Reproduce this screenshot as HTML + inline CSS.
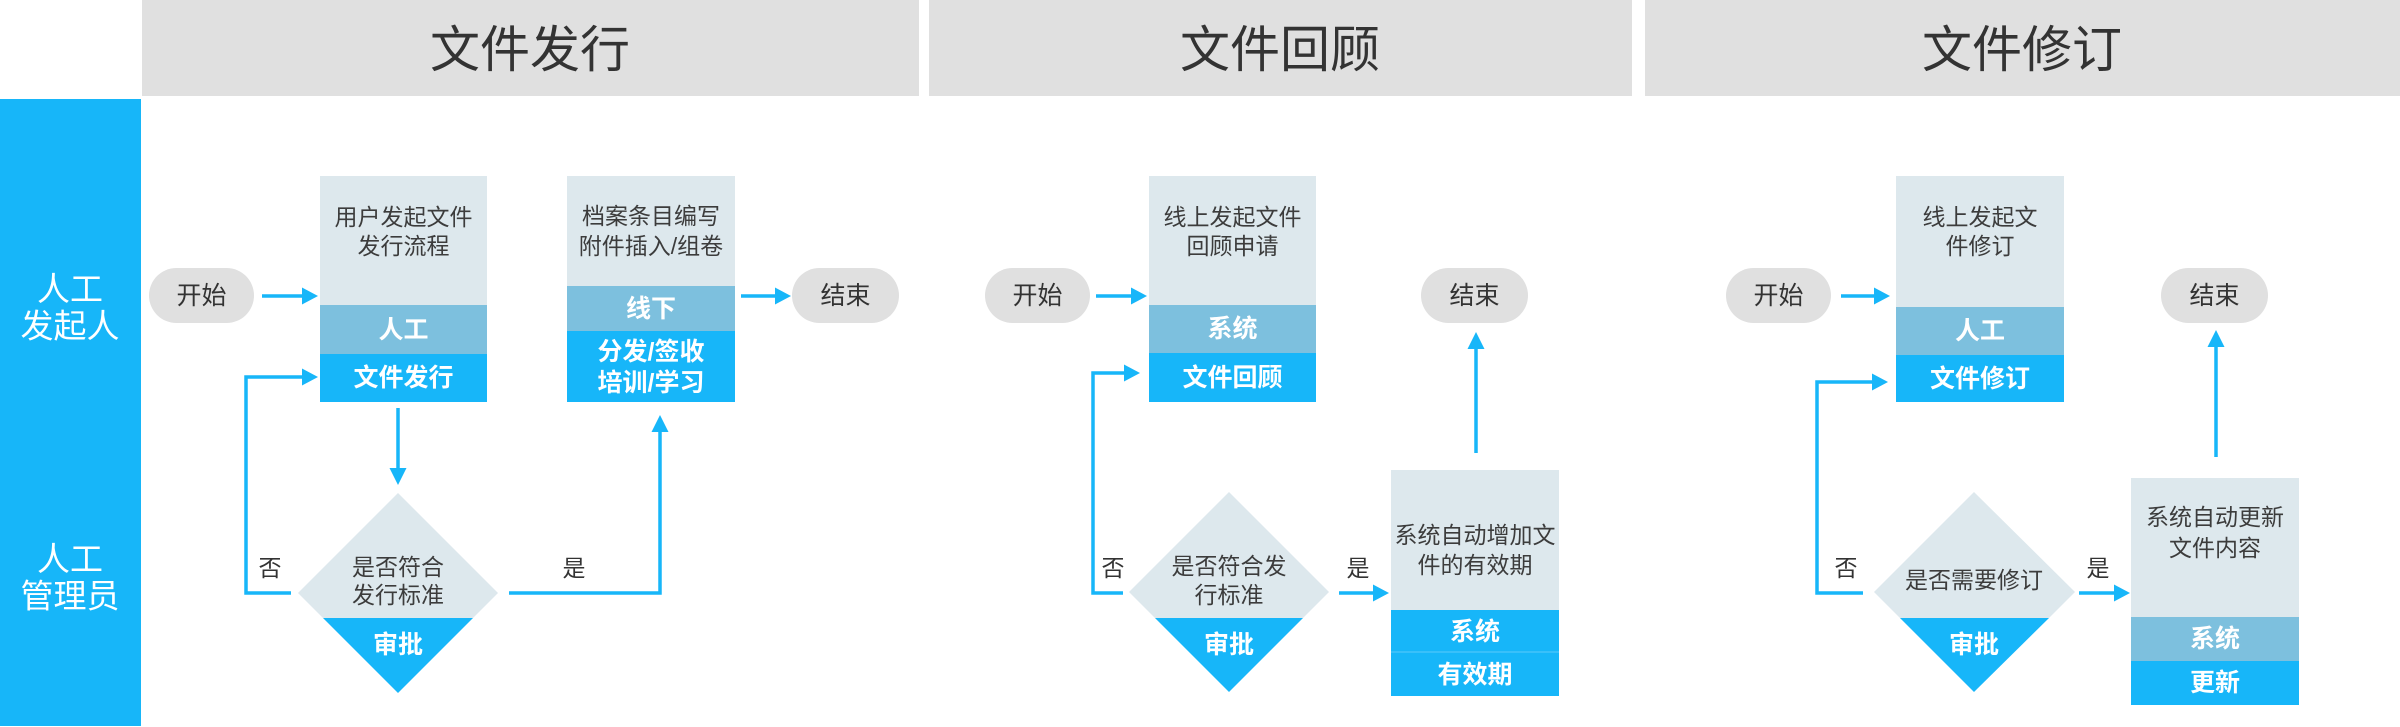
<!DOCTYPE html>
<html>
<head>
<meta charset="utf-8">
<style>
html,body{margin:0;padding:0;background:#fff;}
body{width:2400px;height:727px;overflow:hidden;}
svg{display:block;}
text{font-family:"Liberation Sans","Noto Sans CJK SC",sans-serif;dominant-baseline:central;text-anchor:middle;}
.t{font-size:50px;fill:#333;}
.s{font-size:33px;fill:#fff;}
.p{font-size:25px;fill:#333;}
.b{font-size:23px;fill:#3c3c3c;}
.w{font-size:25px;fill:#fff;font-weight:bold;}
.l{font-size:23px;fill:#333;}
</style>
</head>
<body>
<svg width="2400" height="727" viewBox="0 0 2400 727" xmlns="http://www.w3.org/2000/svg">
<!-- headers -->
<rect x="142" y="0" width="777" height="96" fill="#e0e0e0"/>
<rect x="929" y="0" width="703" height="96" fill="#e0e0e0"/>
<rect x="1645" y="0" width="755" height="96" fill="#e0e0e0"/>
<text class="t" x="530" y="50">文件发行</text>
<text class="t" x="1280" y="50">文件回顾</text>
<text class="t" x="2022" y="50">文件修订</text>

<!-- sidebar -->
<rect x="0" y="99" width="141" height="627" fill="#17b6f9"/>
<text class="s" x="70" y="289">人工</text>
<text class="s" x="70" y="326">发起人</text>
<text class="s" x="70" y="559">人工</text>
<text class="s" x="70" y="596">管理员</text>

<!-- ===== Section 1 ===== -->
<rect x="149" y="268" width="105" height="55" rx="27.5" fill="#e0e0e0"/>
<text class="p" x="201.5" y="296">开始</text>
<line x1="262" y1="296" x2="304" y2="296" stroke="#17b6f9" stroke-width="3.5"/>
<polygon points="302,287.5 318,296 302,304.5" fill="#17b6f9"/>

<rect x="320" y="176" width="167" height="129" fill="#dde8ed"/>
<rect x="320" y="305" width="167" height="49" fill="#7dc0de"/>
<rect x="320" y="354" width="167" height="48" fill="#17b6f9"/>
<text class="b" x="403.5" y="217">用户发起文件</text>
<text class="b" x="403.5" y="246">发行流程</text>
<text class="w" x="403.5" y="330">人工</text>
<text class="w" x="403.5" y="378">文件发行</text>

<line x1="398" y1="408" x2="398" y2="470" stroke="#17b6f9" stroke-width="3.5"/>
<polygon points="389.5,468 406.5,468 398,485" fill="#17b6f9"/>

<polygon points="398,493 498,593 473,618 323,618 298,593" fill="#dde8ed"/>
<polygon points="323,618 473,618 398,693" fill="#17b6f9"/>
<text class="b" x="398" y="567">是否符合</text>
<text class="b" x="398" y="595">发行标准</text>
<text class="w" x="398" y="645">审批</text>

<polyline points="291,593 246,593 246,377 304,377" fill="none" stroke="#17b6f9" stroke-width="3.5"/>
<polygon points="302,368.5 318,377 302,385.5" fill="#17b6f9"/>
<text class="l" x="270" y="568">否</text>

<polyline points="509,593 660,593 660,432" fill="none" stroke="#17b6f9" stroke-width="3.5"/>
<polygon points="651.5,432 668.5,432 660,415" fill="#17b6f9"/>
<text class="l" x="574" y="568">是</text>

<rect x="567" y="176" width="168" height="110" fill="#dde8ed"/>
<rect x="567" y="286" width="168" height="45" fill="#7dc0de"/>
<rect x="567" y="331" width="168" height="71" fill="#17b6f9"/>
<text class="b" x="651" y="216">档案条目编写</text>
<text class="b" x="651" y="246">附件插入/组卷</text>
<text class="w" x="651" y="309">线下</text>
<text class="w" x="651" y="352">分发/签收</text>
<text class="w" x="651" y="383">培训/学习</text>

<line x1="741" y1="296" x2="777" y2="296" stroke="#17b6f9" stroke-width="3.5"/>
<polygon points="775,287.5 791,296 775,304.5" fill="#17b6f9"/>
<rect x="792" y="268" width="107" height="55" rx="27.5" fill="#e0e0e0"/>
<text class="p" x="845.5" y="296">结束</text>

<!-- ===== Section 2 ===== -->
<rect x="985" y="268" width="105" height="55" rx="27.5" fill="#e0e0e0"/>
<text class="p" x="1037.5" y="296">开始</text>
<line x1="1096" y1="296" x2="1133" y2="296" stroke="#17b6f9" stroke-width="3.5"/>
<polygon points="1131,287.5 1147,296 1131,304.5" fill="#17b6f9"/>

<rect x="1149" y="176" width="167" height="129" fill="#dde8ed"/>
<rect x="1149" y="305" width="167" height="48" fill="#7dc0de"/>
<rect x="1149" y="353" width="167" height="49" fill="#17b6f9"/>
<text class="b" x="1232.5" y="217">线上发起文件</text>
<text class="b" x="1232.5" y="246">回顾申请</text>
<text class="w" x="1232.5" y="329">系统</text>
<text class="w" x="1232.5" y="378">文件回顾</text>

<rect x="1421" y="268" width="107" height="55" rx="27.5" fill="#e0e0e0"/>
<text class="p" x="1474.5" y="296">结束</text>
<line x1="1476" y1="453" x2="1476" y2="347" stroke="#17b6f9" stroke-width="3.5"/>
<polygon points="1467.5,349 1484.5,349 1476,332" fill="#17b6f9"/>

<polyline points="1123,593 1093,593 1093,373 1126,373" fill="none" stroke="#17b6f9" stroke-width="3.5"/>
<polygon points="1124,364.5 1140,373 1124,381.5" fill="#17b6f9"/>
<text class="l" x="1113" y="568">否</text>

<polygon points="1229,492 1329,592 1303,618 1155,618 1129,592" fill="#dde8ed"/>
<polygon points="1155,618 1303,618 1229,692" fill="#17b6f9"/>
<text class="b" x="1229" y="566">是否符合发</text>
<text class="b" x="1229" y="595">行标准</text>
<text class="w" x="1229" y="645">审批</text>

<line x1="1339" y1="593" x2="1375" y2="593" stroke="#17b6f9" stroke-width="3.5"/>
<polygon points="1373,584.5 1389,593 1373,601.5" fill="#17b6f9"/>
<text class="l" x="1358" y="568">是</text>

<rect x="1391" y="470" width="168" height="140" fill="#dde8ed"/>
<rect x="1391" y="610" width="168" height="86" fill="#17b6f9"/>
<line x1="1391" y1="652" x2="1559" y2="652" stroke="#45c4fa" stroke-width="1.5"/>
<text class="b" x="1475" y="535">系统自动增加文</text>
<text class="b" x="1475" y="565">件的有效期</text>
<text class="w" x="1475" y="632">系统</text>
<text class="w" x="1475" y="675">有效期</text>

<!-- ===== Section 3 ===== -->
<rect x="1726" y="268" width="105" height="55" rx="27.5" fill="#e0e0e0"/>
<text class="p" x="1778.5" y="296">开始</text>
<line x1="1841" y1="296" x2="1876" y2="296" stroke="#17b6f9" stroke-width="3.5"/>
<polygon points="1874,287.5 1890,296 1874,304.5" fill="#17b6f9"/>

<rect x="1896" y="176" width="168" height="131" fill="#dde8ed"/>
<rect x="1896" y="307" width="168" height="48" fill="#7dc0de"/>
<rect x="1896" y="355" width="168" height="47" fill="#17b6f9"/>
<text class="b" x="1980" y="217">线上发起文</text>
<text class="b" x="1980" y="246">件修订</text>
<text class="w" x="1980" y="331">人工</text>
<text class="w" x="1980" y="379">文件修订</text>

<rect x="2161" y="268" width="107" height="55" rx="27.5" fill="#e0e0e0"/>
<text class="p" x="2214.5" y="296">结束</text>
<line x1="2216" y1="457" x2="2216" y2="345" stroke="#17b6f9" stroke-width="3.5"/>
<polygon points="2207.5,347 2224.5,347 2216,330" fill="#17b6f9"/>

<polyline points="1863,593 1817,593 1817,382 1874,382" fill="none" stroke="#17b6f9" stroke-width="3.5"/>
<polygon points="1872,373.5 1888,382 1872,390.5" fill="#17b6f9"/>
<text class="l" x="1846" y="568">否</text>

<polygon points="1974,492 2075,592 2049,618 1900,618 1874,592" fill="#dde8ed"/>
<polygon points="1900,618 2049,618 1974,692" fill="#17b6f9"/>
<text class="b" x="1974" y="580">是否需要修订</text>
<text class="w" x="1974" y="645">审批</text>

<line x1="2079" y1="593" x2="2116" y2="593" stroke="#17b6f9" stroke-width="3.5"/>
<polygon points="2114,584.5 2130,593 2114,601.5" fill="#17b6f9"/>
<text class="l" x="2098" y="568">是</text>

<rect x="2131" y="478" width="168" height="139" fill="#dde8ed"/>
<rect x="2131" y="617" width="168" height="44" fill="#7dc0de"/>
<rect x="2131" y="661" width="168" height="44" fill="#17b6f9"/>
<text class="b" x="2215" y="517">系统自动更新</text>
<text class="b" x="2215" y="548">文件内容</text>
<text class="w" x="2215" y="639">系统</text>
<text class="w" x="2215" y="683">更新</text>
</svg>
</body>
</html>
